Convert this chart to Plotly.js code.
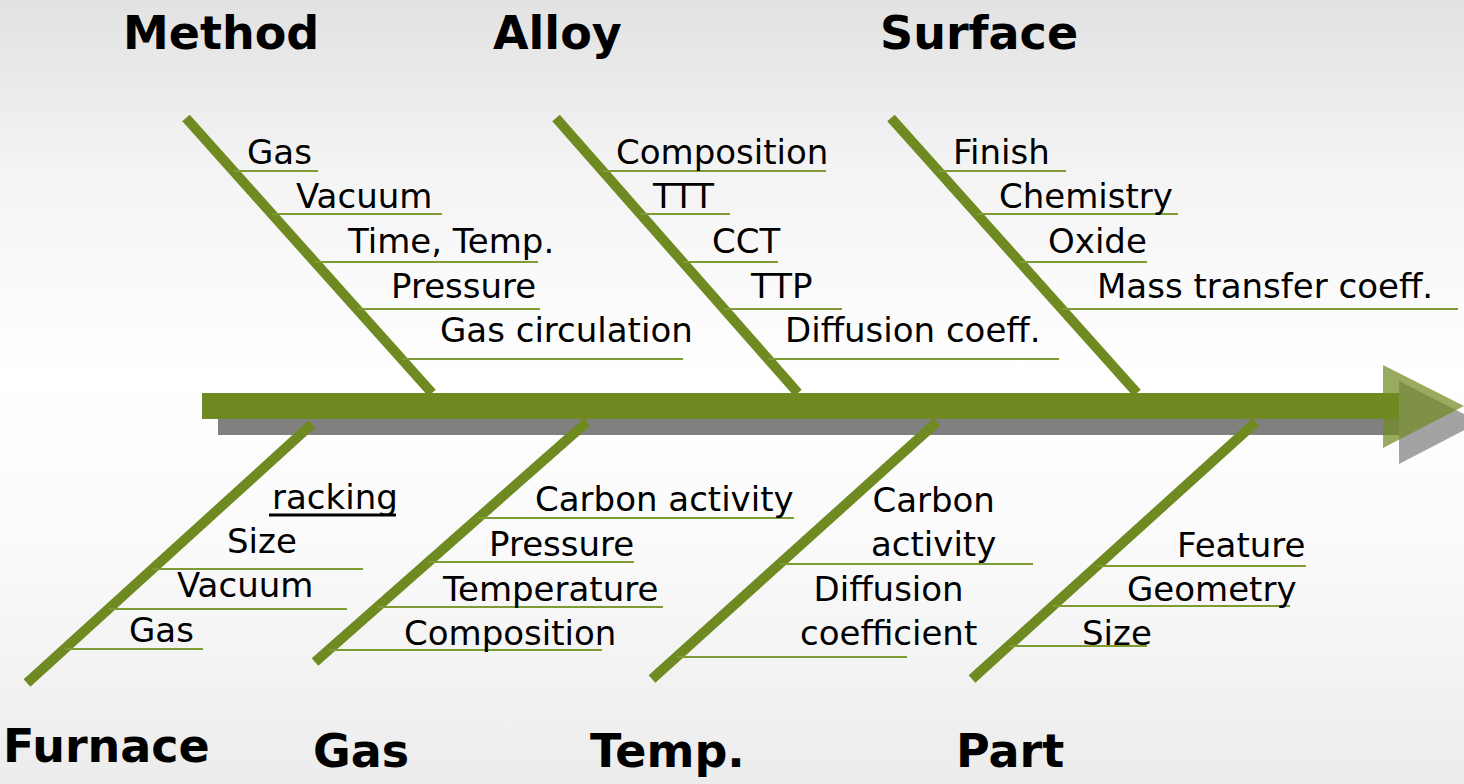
<!DOCTYPE html>
<html><head><meta charset="utf-8">
<script src="https://cdn.plot.ly/plotly-3.0.1.min.js"></script>
<style>
html,body{margin:0;padding:0;width:1464px;height:784px;overflow:hidden;
background:linear-gradient(to bottom,#e2e2e2 0%,#f4f4f4 22%,#ffffff 48%,#fafafa 70%,#ececec 100%);}
#chart{width:1464px;height:784px;}
</style></head><body><div id="chart"></div>
<script>
// ---------------- data ----------------
const categories = ["Method", "Alloy", "Surface", "Furnace", "Gas", "Temp.", "Part"];
const methodCauses = ["Gas", "Vacuum", "Time, Temp.", "Pressure", "Gas circulation"];
const alloyCauses = ["Composition", "TTT", "CCT", "TTP", "Diffusion coeff."];
const surfaceCauses = ["Finish", "Chemistry", "Oxide", "Mass transfer coeff."];
const furnaceCauses = ["racking", "Size", "Vacuum", "Gas"];
const gasCauses = ["Carbon activity", "Pressure", "Temperature", "Composition"];
const tempCauses = ["Carbon<br>activity", "Diffusion<br>coefficient"];
const partCauses = ["Feature", "Geometry", "Size"];
const causesByCategory = [methodCauses, alloyCauses, surfaceCauses, furnaceCauses, gasCauses, tempCauses, partCauses];
const underlinedCauses = ["racking"];

// ---------------- layout (positions / styles) ----------------
const W = 1464, H = 784;
const GREEN = "#708a22", LINEGREEN = "#7f9c34", GRAY = "#808080";
const SHADOW = 16;
const spine = {x0: 202, x1: 1399, y0: 393, y1: 419};
const head = {x0: 1383, yTop: 365, yBot: 448, tipX: 1464, tipY: 406};
// bone end points [xTop, yTop, xBottom, yBottom]
const bones = [[186,118,432,393],[556,118,798,393],[891,118,1137,393],
               [312,424,27,683],[587,422,315,662],[937,422,652,679],[1256,422,972,679]];
const titlePos = [[221,33],[557,33],[979,33],[106,746],[361,751],[667,751],[1010,751]];
const upperTextY = [152,196,241,286,330];
const upperLineY = [171,214,262,309,359];
const textX = [[245,294,345,389,438],[614,650,710,748,783],[951,997,1046,1095],
               [270,225,175,127],[533,487,440,402],[933,888],[1175,1125,1080]];
const textY = [upperTextY, upperTextY, upperTextY,
               [497,541,585,630],[499,544,589,633],[522,611],[545,589,633]];
const lineY = [upperLineY, upperLineY, upperLineY,
               [515,569,609,649],[518,562,607,650],[564,657],[566,606,646]];
const lineEnd = [[318,442,538,540,683],[826,730,778,842,1059],[1066,1178,1147,1458],
                 [396,363,347,203],[794,634,663,602],[1033,907],[1306,1290,1147]];
const centeredCats = ["Temp."];

const shapes = [];
const annotations = [];

// shadow + spine + arrow head
shapes.push({type:"rect", xref:"x", yref:"y", x0:spine.x0+SHADOW, x1:spine.x1, y0:spine.y0+SHADOW, y1:spine.y1+SHADOW,
             fillcolor:GRAY, line:{width:0}});
shapes.push({type:"path", xref:"x", yref:"y",
  path:`M${head.x0+SHADOW},${head.yTop+SHADOW} L${head.tipX+SHADOW},${head.tipY+SHADOW} L${head.x0+SHADOW},${head.yBot+SHADOW} Z`,
  fillcolor:"rgba(128,128,128,0.72)", line:{width:0}});
shapes.push({type:"rect", xref:"x", yref:"y", x0:spine.x0, x1:spine.x1, y0:spine.y0, y1:spine.y1,
             fillcolor:GREEN, line:{width:0}});
shapes.push({type:"path", xref:"x", yref:"y",
  path:`M${head.x0},${head.yTop} L${head.tipX},${head.tipY} L${head.x0},${head.yBot} Z`,
  fillcolor:"rgba(112,138,34,0.72)", line:{width:0}});

function boneX(b, y){ return b[0] + (y - b[1]) * (b[2] - b[0]) / (b[3] - b[1]); }

categories.forEach((cat, i) => {
  const b = bones[i];
  shapes.push({type:"line", xref:"x", yref:"y", x0:b[0], y0:b[1], x1:b[2], y1:b[3],
               line:{color:GREEN, width:10}});
  annotations.push({xref:"x", yref:"y", x:titlePos[i][0], y:titlePos[i][1], text:"<b>"+cat+"</b>",
    showarrow:false, xanchor:"center", yanchor:"middle",
    font:{family:"DejaVu Sans", size:46, color:"#000", weight:700}});
  causesByCategory[i].forEach((c, j) => {
    const ly = lineY[i][j];
    if (underlinedCauses.includes(c)) {
      shapes.push({type:"line", xref:"x", yref:"y", x0:textX[i][j]-1, x1:lineEnd[i][j], y0:ly, y1:ly,
                   line:{color:"#000", width:3}});
    } else {
      shapes.push({type:"line", xref:"x", yref:"y", x0:boneX(b, ly), x1:lineEnd[i][j], y0:ly, y1:ly,
                   line:{color:LINEGREEN, width:2}});
    }
    const centered = centeredCats.includes(cat);
    annotations.push({xref:"x", yref:"y", x:textX[i][j], y:textY[i][j], text:c, showarrow:false,
      xanchor: centered ? "center" : "left", align: centered ? "center" : "left", yanchor:"middle",
      font:{family:"DejaVu Sans", size:34, color:"#000"}});
  });
});

const layout = {
  width:W, height:H, margin:{l:0,r:0,t:0,b:0},
  paper_bgcolor:"rgba(0,0,0,0)", plot_bgcolor:"rgba(0,0,0,0)",
  xaxis:{range:[0,W], visible:false, fixedrange:true},
  yaxis:{range:[H,0], visible:false, fixedrange:true},
  showlegend:false, shapes:shapes, annotations:annotations
};
Plotly.newPlot("chart", [{x:[], y:[], type:"scatter", mode:"markers", hoverinfo:"skip"}], layout,
  {staticPlot:true, displayModeBar:false});
</script></body></html>
